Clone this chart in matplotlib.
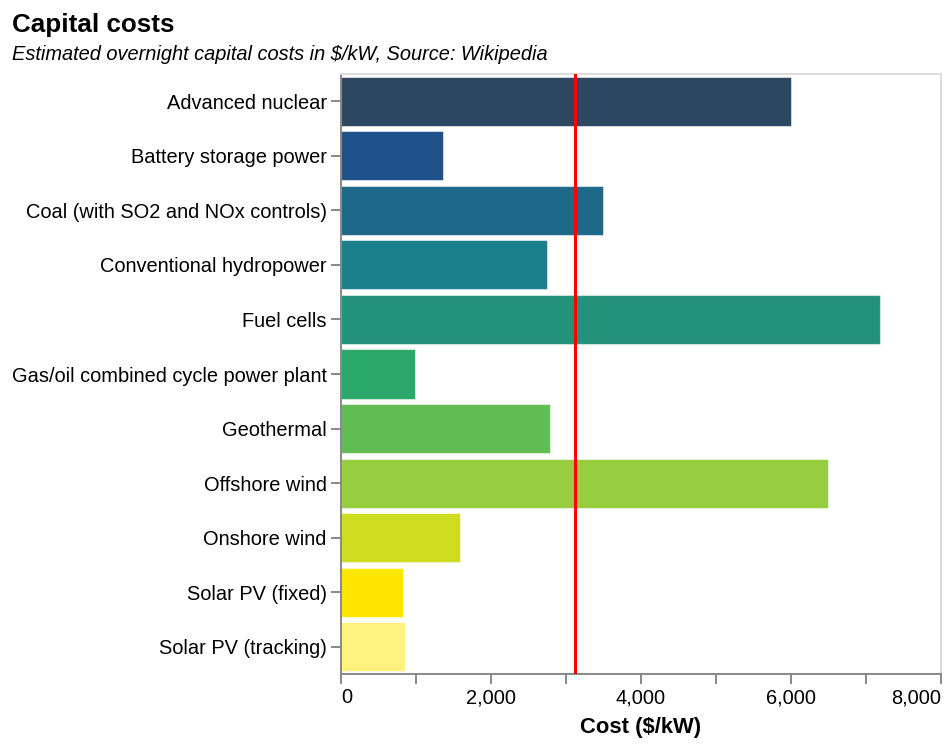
import matplotlib
matplotlib.use("Agg")
import matplotlib.pyplot as plt
from matplotlib.ticker import FixedLocator, FuncFormatter
import numpy as np

plt.rcParams['font.family'] = ['Liberation Sans', 'DejaVu Sans']

categories = [
    "Advanced nuclear",
    "Battery storage power",
    "Coal (with SO2 and NOx controls)",
    "Conventional hydropower",
    "Fuel cells",
    "Gas/oil combined cycle power plant",
    "Geothermal",
    "Offshore wind",
    "Onshore wind",
    "Solar PV (fixed)",
    "Solar PV (tracking)",
]
costs = [6000, 1365, 3489, 2742, 7190, 987, 2787, 6489, 1587, 820, 859]
colors = ["#2c4760", "#1f5087", "#1e6889", "#1a7e8b", "#22927a", "#2ba869",
          "#62bc55", "#97ce40", "#cddc1f", "#ffe600", "#fff27f"]
x_ticks = [0, 1000, 2000, 3000, 4000, 5000, 6000, 7000, 8000]
title = "Capital costs"
subtitle = "Estimated overnight capital costs in $/kW, Source: Wikipedia"
x_label = "Cost ($/kW)"

W, H = 952, 748
fig = plt.figure(figsize=(W / 100, H / 100), dpi=100)
ax = fig.add_axes([341 / W, 1 - 674 / H, 600 / W, 600 / H])

y = np.arange(len(categories))
ax.barh(y, costs, height=0.9, color=colors, edgecolor=(1, 1, 1, 0.5), linewidth=0.8, zorder=2)
mean_cost = float(np.mean(costs))
ax.axvline(mean_cost, color="#ff0000", linewidth=2.2, zorder=3)

ax.set_xlim(0, 8000)
ax.set_ylim(len(categories) - 0.5, -0.5)
ax.set_yticks(y)
ax.set_yticklabels(categories)
ax.xaxis.set_major_locator(FixedLocator(x_ticks))
ax.xaxis.set_major_formatter(FuncFormatter(lambda v, p: f"{int(v):,}" if int(v) % 2000 == 0 else ""))
ax.tick_params(axis="x", colors="#888888", length=7.2, width=1.4, labelsize=14.4, labelcolor="black", pad=3)
ax.tick_params(axis="y", colors="#888888", length=7.2, width=1.4, labelsize=14.4, labelcolor="black", pad=3)
fig.canvas.draw()
for t in ax.get_xticklabels():
    txt = t.get_text()
    if txt == "0":
        t.set_horizontalalignment("left")
    elif txt == "8,000":
        t.set_horizontalalignment("right")

ax.set_xlabel(x_label, fontsize=15.8, fontweight="bold", labelpad=7)

for side in ["left", "bottom"]:
    ax.spines[side].set_color("#888888")
    ax.spines[side].set_linewidth(1.4)
for side in ["top", "right"]:
    ax.spines[side].set_color("#dddddd")
    ax.spines[side].set_linewidth(1.4)

fig.text(12 / W, 1 - 32 / H, title, fontsize=18.7, fontweight="bold", ha="left", va="baseline")
fig.text(12 / W, 1 - 60 / H, subtitle, fontsize=14.4, style="italic", ha="left", va="baseline")

fig.savefig("out.png", dpi=100, facecolor="white")
